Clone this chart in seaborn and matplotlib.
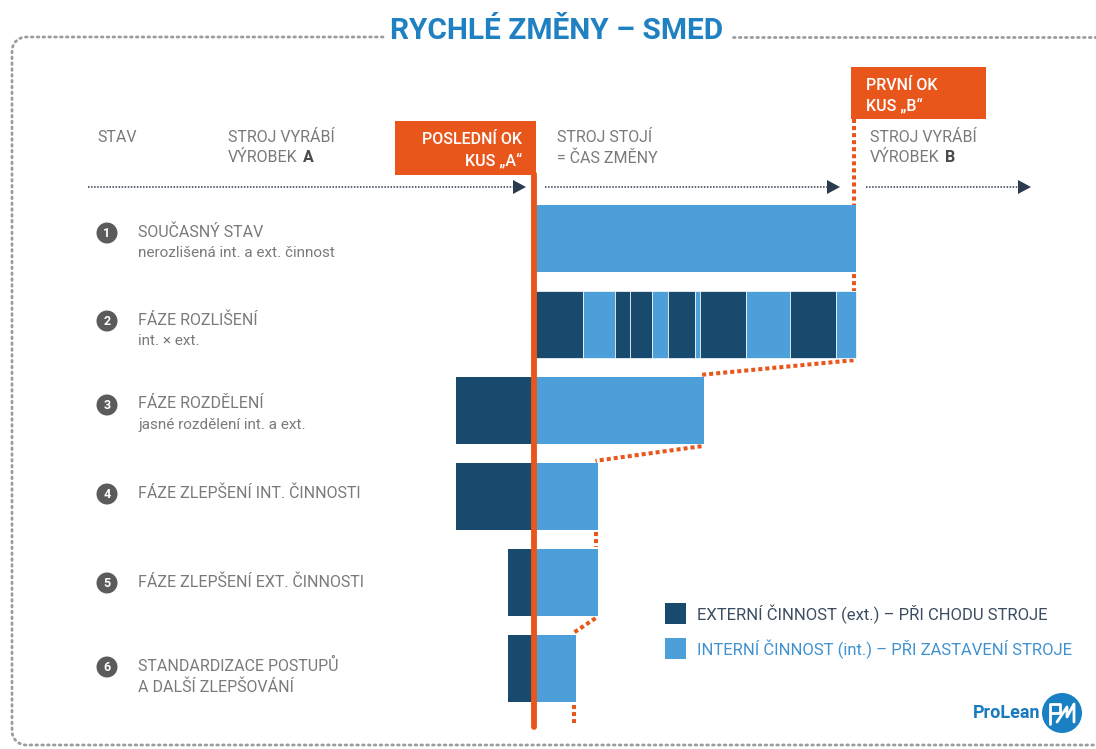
import numpy as np
import pandas as pd
import matplotlib
matplotlib.use("Agg")
import matplotlib.pyplot as plt
from matplotlib.patches import Rectangle, Circle
import seaborn as sns

# Data (minutes of changeover; ext = before the last OK part, int = machine stopped)

stage_titles = [
    "SOUČASNÝ STAV",
    "FÁZE ROZLIŠENÍ",
    "FÁZE ROZDĚLENÍ",
    "FÁZE ZLEPŠENÍ INT. ČINNOSTI",
    "FÁZE ZLEPŠENÍ EXT. ČINNOSTI",
    "STANDARDIZACE POSTUPŮ",
]
stage_subtitles = [
    "nerozlišená int. a ext. činnost",
    "int. × ext.",
    "jasné rozdělení int. a ext.",
    "",
    "",
    "A DALŠÍ ZLEPŠOVÁNÍ",
]

# stages 1, 3, 4, 5, 6 (stage 2 is a mixed sequence below)
rows = [0, 2, 3, 4, 5]
ext_minutes = [0.0, 7.8, 7.8, 2.6, 2.6]
int_minutes = [32.2, 17.0, 6.4, 6.4, 4.2]

# stage 2: interleaved ext / int blocks, all while machine stands
row2_kinds = ["ext", "int", "ext", "ext", "int", "ext", "int", "ext", "int", "ext", "int"]
row2_minutes = [4.9, 3.2, 1.5, 2.2, 1.6, 2.7, 0.5, 4.6, 4.4, 4.6, 2.0]

legend_labels = [
    "EXTERNÍ ČINNOST (ext.) – PŘI CHODU STROJE",
    "INTERNÍ ČINNOST (int.) – PŘI ZASTAVENÍ STROJE",
]

# Style

DARK = "#174a6c"
LIGHT = "#4d9fd9"
ORANGE = "#e8561b"
GRAY = "#7a7a7a"
NAVY = "#2c3b4e"
BLUE = "#1f80c2"

sns.set_style("white")
plt.rcParams["font.family"] = ["Roboto", "DejaVu Sans"]

W, H = 1096, 749
ZERO_PX = 533.5      # pixel x of the "last OK part" line
PX_PER_MIN = 10.0
ROW0_PX = 238.5      # pixel y of first stage centre
ROW_STEP = 86.0
BAR_H = 0.79

fig = plt.figure(figsize=(W / 100, H / 100), dpi=100)
renderer = fig.canvas.get_renderer()

# pixel-coordinate layer for the frame and text
deco = fig.add_axes([0, 0, 1, 1])
deco.set_xlim(0, W)
deco.set_ylim(H, 0)
deco.axis("off")

# data layer for the bars
ax = fig.add_axes([0, 0, 1, 1])
ax.patch.set_alpha(0)


def py(y):
    return (y - ROW0_PX) / ROW_STEP


# Bars

df = pd.DataFrame({
    "row": rows * 2,
    "minutes": [-v for v in ext_minutes] + int_minutes,
    "kind": ["ext"] * len(rows) + ["int"] * len(rows),
})
df = df[df["minutes"] != 0]

sns.barplot(
    data=df,
    x="minutes",
    y="row",
    hue="kind",
    hue_order=["ext", "int"],
    palette={"ext": DARK, "int": LIGHT},
    orient="h",
    native_scale=True,
    dodge=False,
    width=BAR_H,
    errorbar=None,
    saturation=1,
    linewidth=0,
    legend=False,
    ax=ax,
    zorder=3,
)

left = 0.0
for kind, m in zip(row2_kinds, row2_minutes):
    ax.barh(1, m, left=left, height=BAR_H,
            color=DARK if kind == "ext" else LIGHT,
            edgecolor="white", linewidth=0.5, zorder=3)
    left += m

ax.set_xlim(-ZERO_PX / PX_PER_MIN, (W - ZERO_PX) / PX_PER_MIN)
ax.set_ylim(py(H), py(0))
ax.axis("off")

# Orange line at the last OK part of A
ax.axvline(0, ymin=1 - 727 / H, ymax=1 - 174 / H, color=ORANGE, lw=4.2, zorder=5)

# Dotted orange outline of the stand-still time
row_end = [int_minutes[0], sum(row2_minutes)] + int_minutes[1:]
dot = dict(color=ORANGE, lw=2.9, linestyle=(0, (1.0, 0.75)), zorder=2)
ax.plot([row_end[0] - 0.2] * 2, [py(119), 1 - BAR_H / 2], **dot)
for i in range(1, len(row_end) - 1):
    ax.plot([row_end[i] - 0.2, row_end[i + 1] - 0.2],
            [i + BAR_H / 2 + 0.02, i + 1 - BAR_H / 2 - 0.02], **dot)
ax.plot([row_end[-1] - 0.2] * 2, [5 + BAR_H / 2 + 0.03, py(723)], **dot)

# Frame

bcol = "#9c9c9c"
bstyle = dict(color=bcol, lw=2.0, linestyle=(0, (0.6, 1.5)), dash_capstyle="round")
r = 14
t = np.linspace(np.pi / 2, np.pi, 10)
tl_x = 12 + r + r * np.cos(t)
tl_y = 37 + r - r * np.sin(t)
t2 = np.linspace(np.pi, 1.5 * np.pi, 10)
bl_x = 12 + r + r * np.cos(t2)
bl_y = 745 - r - r * np.sin(t2)
fx = np.concatenate([[383], tl_x, bl_x, [W]])
fy = np.concatenate([[37], tl_y, bl_y, [745]])
deco.plot(fx, fy, **bstyle)
deco.plot([733, W], [37, 37], **bstyle)

deco.text(557, 31, "RYCHLÉ ZMĚNY – SMED", ha="center", va="center",
          fontsize=21.5, fontweight="bold", color=BLUE)

# Header

FS = 11.5
hdr = dict(fontsize=FS, color=GRAY, va="center")


def word_then_bold(x, y, word, letter):
    t = deco.text(x, y, word, **hdr)
    bb = t.get_window_extent(renderer)
    x_end = deco.transData.inverted().transform((bb.x1, bb.y0))[0]
    deco.text(x_end + 5, y, letter, fontsize=FS, color="#4a4a4a", va="center",
              fontweight="bold")


deco.text(97, 138, "STAV", **hdr)
deco.text(228, 138, "STROJ VYRÁBÍ", **hdr)
word_then_bold(228, 158, "VÝROBEK", "A")
deco.text(557, 138, "STROJ STOJÍ", **hdr)
deco.text(557, 158, "= ČAS ZMĚNY", **hdr)
deco.text(870, 138, "STROJ VYRÁBÍ", **hdr)
word_then_bold(870, 158, "VÝROBEK", "B")

deco.add_patch(Rectangle((395, 121), 141, 54, color=ORANGE, lw=0, zorder=4))
box = dict(fontsize=11.5, color="white", va="center", fontweight="medium", zorder=5)
deco.text(522, 139, "POSLEDNÍ OK", ha="right", **box)
deco.text(522, 160, "KUS „A“", ha="right", **box)

deco.add_patch(Rectangle((851, 67), 135, 52, color=ORANGE, lw=0, zorder=4))
deco.text(866, 85, "PRVNÍ OK", ha="left", **box)
deco.text(866, 105, "KUS „B“", ha="left", **box)

for x0, x1 in [(88, 513), (545, 827), (866, 1018)]:
    deco.plot([x0, x1], [187, 187], color=NAVY, lw=1.1, linestyle=(0, (1, 1)))
    deco.fill([x1, x1 + 13, x1], [180, 187, 194], color=NAVY, lw=0)

# Stage labels

title_y = [232, 320, 404, 493, 582, 666]
for i, (ttl, sub) in enumerate(zip(stage_titles, stage_subtitles)):
    yc = title_y[i]
    deco.add_patch(Circle((107, yc + 1), 10.5, color="#5b5b5b", lw=0))
    deco.text(107, yc + 1.5, str(i + 1), ha="center", va="center",
              fontsize=9, fontweight="bold", color="white")
    deco.text(138, yc, ttl, fontsize=FS, color=GRAY, va="center")
    if sub:
        size = FS if sub.isupper() else 11
        deco.text(138, yc + 21, sub, fontsize=size, color=GRAY, va="center")

# Legend

for (y, c), lab, tc in zip([(603, DARK), (638, LIGHT)], legend_labels, ["#3b4d60", "#3f91d0"]):
    deco.add_patch(Rectangle((665, y), 21, 21, color=c, lw=0))
    deco.text(697, y + 11, lab, fontsize=12, color=tc, va="center")

# Logo

deco.text(1040, 713, "ProLean", ha="right", va="center", fontsize=13,
          fontweight="bold", color="#1b7bbf")
deco.add_patch(Circle((1062, 713), 20, color="#1a80c4", lw=0))
deco.plot([1050, 1050, 1060, 1060, 1052], [724, 704, 704, 713, 713], color="white", lw=2)
deco.plot([1057, 1067, 1067, 1074, 1074], [722, 707, 717, 704, 722], color="white", lw=2)

plt.savefig("out.png", dpi=100)
plt.close()
